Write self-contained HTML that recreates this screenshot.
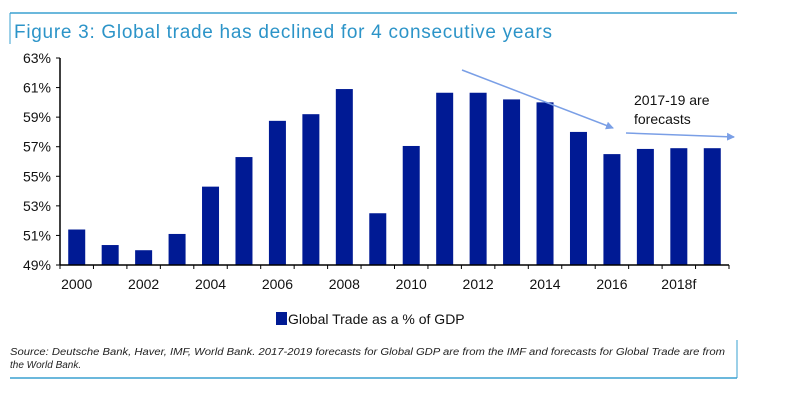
<!DOCTYPE html>
<html><head><meta charset="utf-8"><style>
body{margin:0;background:#fff;width:785px;height:402px;overflow:hidden;font-family:"Liberation Sans",sans-serif}
</style></head><body>
<svg width="785" height="402">
<line x1="10" y1="13" x2="737" y2="13" stroke="#3aa0d0" stroke-width="1.5"/>
<line x1="10" y1="13" x2="10" y2="44" stroke="#3aa0d0" stroke-width="1"/>
<text x="14" y="38" font-size="19" fill="#2c94c8" textLength="538">Figure 3: Global trade has declined for 4 consecutive years</text>
<g id="yaxis"></g>
<g id="bars"></g>
<g id="xaxis"></g>
<defs><marker id="ah" markerWidth="8" markerHeight="8" refX="7" refY="4" orient="auto" markerUnits="userSpaceOnUse"><path d="M0,0L8,4L0,8z" fill="#7a9fe6"/></marker></defs>
<line x1="462" y1="70" x2="613" y2="128" stroke="#7a9fe6" stroke-width="1.5" marker-end="url(#ah)"/>
<line x1="626" y1="133" x2="734" y2="137" stroke="#7a9fe6" stroke-width="1.5" marker-end="url(#ah)"/>
<text x="634" y="105" font-size="14" fill="#111">2017-19 are</text>
<text x="634" y="124" font-size="14" fill="#111">forecasts</text>
<rect x="276" y="312" width="11" height="13" fill="#001a94"/>
<text x="288" y="324" font-size="14" fill="#111">Global Trade as a % of GDP</text>
<text x="10" y="355" font-size="10" font-style="italic" fill="#222" textLength="715" lengthAdjust="spacingAndGlyphs">Source: Deutsche Bank, Haver, IMF, World Bank. 2017-2019 forecasts for Global GDP are from the IMF and forecasts for Global Trade are from</text>
<text x="10" y="368" font-size="10" font-style="italic" fill="#222">the World Bank.</text>
<line x1="737" y1="340" x2="737" y2="378" stroke="#3aa0d0" stroke-width="1"/>
<line x1="10" y1="378" x2="737" y2="378" stroke="#3aa0d0" stroke-width="1.5"/>
</svg>
<script>
const years=[2000,2001,2002,2003,2004,2005,2006,2007,2008,2009,2010,2011,2012,2013,2014,2015,2016,2017,2018,2019];
const values=[51.4,50.35,50.0,51.1,54.3,56.3,58.75,59.2,60.9,52.5,57.05,60.65,60.65,60.2,60.0,58.0,56.5,56.85,56.9,56.9];
const xLabels=["2000","2002","2004","2006","2008","2010","2012","2014","2016","2018f"];
const yTicks=[49,51,53,55,57,59,61,63];
const NS="http://www.w3.org/2000/svg";
const x0=60,x1=729,yTop=58,yBot=265,ymin=49,ymax=63;
const band=(x1-x0)/years.length;
const yS=v=>yBot-(v-ymin)/(ymax-ymin)*(yBot-yTop);
const xS=i=>x0+band*i;
function mk(t,a,p){const e=document.createElementNS(NS,t);for(const k in a)e.setAttribute(k,a[k]);p.appendChild(e);return e;}
const ya=document.getElementById('yaxis'),bg=document.getElementById('bars'),xa=document.getElementById('xaxis');
const ax=mk('line',{x1:x0,y1:yTop,x2:x0,y2:yBot,stroke:'#000','stroke-width':1.5},ya);


yTicks.forEach(v=>{const y=yS(v);
 const t=mk('line',{x1:x0-4,y1:y,x2:x0,y2:y,stroke:'#000'},ya);
 
 
 const l=mk('text',{x:x0-9,y:y+5,'font-size':14,'text-anchor':'end',fill:'#111'},ya);l.textContent=v+'%';
 
 });
values.forEach((v,i)=>{const cx=xS(i)+band/2;
 const r=mk('rect',{x:cx-8.5,y:yS(v),width:17,height:yBot-yS(v),fill:'#001a94'},bg);
 
 });
const xl=mk('line',{x1:x0,y1:yBot,x2:x1,y2:yBot,stroke:'#000','stroke-width':1.5},xa);


for(let i=0;i<=years.length;i++){const t=mk('line',{x1:xS(i),y1:yBot,x2:xS(i),y2:yBot+4,stroke:'#000'},xa);
 
 }
xLabels.forEach((s,k)=>{const i=k*2;const l=mk('text',{x:xS(i)+band/2,y:yBot+24,'font-size':14,'text-anchor':'middle',fill:'#111'},xa);l.textContent=s;
 
 });
</script>
</body></html>
